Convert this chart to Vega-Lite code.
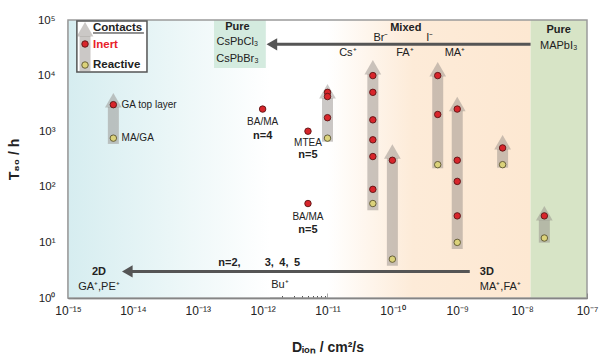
{
  "$schema": "https://vega.github.io/schema/vega-lite/v6.json",
  "width": 519,
  "height": 278,
  "autosize": "none",
  "padding": {"left": 68, "top": 20, "right": 16, "bottom": 60},
  "background": "white",
  "config": {
    "view": {"stroke": null},
    "text": {"font": "Liberation Sans", "color": "#222222"},
    "axis": {
      "zindex": 1,
      "grid": false,
      "domainColor": "#444444",
      "domainWidth": 1.5,
      "tickColor": "#555555",
      "tickWidth": 1,
      "labelFont": "Liberation Sans",
      "labelFontSize": 12,
      "labelColor": "#222222",
      "labelOverlap": false,
      "labelFlush": false,
      "titleFont": "Liberation Sans",
      "titleFontSize": 14,
      "titleFontWeight": "bold",
      "titleColor": "#222222"
    }
  },
  "encoding": {
    "x": {
      "field": "x",
      "type": "quantitative",
      "scale": {"type": "log", "domain": [1e-15, 1e-7], "nice": false},
      "axis": {
        "title": "Dᵢₒₙ / cm²/s",
        "titlePadding": 22,
        "labelPadding": 12,
        "values": [1e-15,2e-15,3e-15,4e-15,5e-15,6e-15,7e-15,8e-15,9e-15,1e-14,2e-14,3e-14,4e-14,5e-14,6e-14,7e-14,8e-14,9e-14,1e-13,2e-13,3e-13,4e-13,5e-13,6e-13,7e-13,8e-13,9e-13,1e-12,2e-12,3e-12,4e-12,5e-12,6e-12,7e-12,8e-12,9e-12,1e-11,2e-11,3e-11,4e-11,5e-11,6e-11,7e-11,8e-11,9e-11,1e-10,2e-10,3e-10,4e-10,5e-10,6e-10,7e-10,8e-10,9e-10,1e-9,2e-9,3e-9,4e-9,5e-9,6e-9,7e-9,8e-9,9e-9,1e-8,2e-8,3e-8,4e-8,5e-8,6e-8,7e-8,8e-8,9e-8,1e-7],
        "labelExpr": "abs(log(datum.value)/LN10 - round(log(datum.value)/LN10)) < 0.01 ? ['10⁻¹⁵','10⁻¹⁴','10⁻¹³','10⁻¹²','10⁻¹¹','10⁻¹⁰','10⁻⁹','10⁻⁸','10⁻⁷'][round(log(datum.value)/LN10)+15] : ''",
        "tickSize": {"condition": {"test": "abs(log(datum.value)/LN10 - round(log(datum.value)/LN10)) < 0.01", "value": -5}, "value": -2.5}
      }
    },
    "y": {
      "field": "y",
      "type": "quantitative",
      "scale": {"type": "log", "domain": [1, 100000], "nice": false},
      "axis": {
        "title": "T₈₀ / h",
        "titlePadding": 16,
        "labelPadding": 18,
        "labelFontSize": 11.5,
        "values": [1,2,3,4,5,6,7,8,9,10,20,30,40,50,60,70,80,90,100,200,300,400,500,600,700,800,900,1000,2000,3000,4000,5000,6000,7000,8000,9000,10000,20000,30000,40000,50000,60000,70000,80000,90000,100000],
        "labelExpr": "abs(log(datum.value)/LN10 - round(log(datum.value)/LN10)) < 0.01 ? ['10⁰','10¹','10²','10³','10⁴','10⁵'][round(log(datum.value)/LN10)] : ''",
        "tickSize": {"condition": {"test": "abs(log(datum.value)/LN10 - round(log(datum.value)/LN10)) < 0.01", "value": -5}, "value": -2.5}
      }
    }
  },
  "layer": [
    {
      "data": {"values": [{"x": 1e-15, "x2": 1.3e-12, "y": 1, "y2": 100000}]},
      "mark": {"type": "rect", "fill": {"gradient": "linear", "x1": 0, "y1": 0, "x2": 1, "y2": 0, "stops": [{"offset": 0, "color": "#d6edf0"}, {"offset": 0.5, "color": "#eaf6f7"}, {"offset": 1, "color": "#ffffff"}]}},
      "encoding": {"x2": {"field": "x2"}, "y2": {"field": "y2"}}
    },
    {
      "data": {"values": [{"x": 1e-11, "x2": 1.35e-8, "y": 1, "y2": 100000}]},
      "mark": {"type": "rect", "fill": {"gradient": "linear", "x1": 0, "y1": 0, "x2": 1, "y2": 0, "stops": [{"offset": 0, "color": "#ffffff"}, {"offset": 0.42, "color": "#fdebd8"}, {"offset": 1, "color": "#fde8d2"}]}},
      "encoding": {"x2": {"field": "x2"}, "y2": {"field": "y2"}}
    },
    {
      "data": {"values": [{"x": 1.35e-8, "x2": 1e-7, "y": 1, "y2": 100000}]},
      "mark": {"type": "rect", "fill": "#d7e4c6"},
      "encoding": {"x2": {"field": "x2"}, "y2": {"field": "y2"}}
    },
    {
      "data": {"values": [{"x": 1.78e-13, "x2": 1.12e-12, "y": 13700, "y2": 100000}]},
      "mark": {"type": "rect", "fill": "#d4ebdf"},
      "encoding": {"x2": {"field": "x2"}, "y2": {"field": "y2"}}
    },
    {
      "data": {"values": [{"x": 1e-15, "x2": 1e-7, "y": 1, "y2": 100000}]},
      "mark": {"type": "rect", "fill": null, "stroke": "#9a9a9a", "strokeWidth": 1.5},
      "encoding": {"x2": {"field": "x2"}, "y2": {"field": "y2"}}
    },
    {
      "data": {"name": "arrows", "values": [
        {"x": 5e-15, "y": 590, "y2": 4860},
        {"x": 1e-11, "y": 647, "y2": 7060},
        {"x": 5e-11, "y": 38, "y2": 19100},
        {"x": 1e-10, "y": 3.8, "y2": 581},
        {"x": 5e-10, "y": 215, "y2": 17600},
        {"x": 1e-9, "y": 7.6, "y2": 4180},
        {"x": 5e-9, "y": 221, "y2": 855},
        {"x": 2.2e-8, "y": 9.9, "y2": 45}
      ]},
      "mark": {"type": "rule", "strokeWidth": 11, "strokeCap": "butt", "color": "#8c8580", "opacity": 0.45, "y2Offset": 14},
      "encoding": {"y2": {"field": "y2"}}
    },
    {
      "data": {"name": "arrows"},
      "mark": {"type": "point", "shape": "triangle-up", "filled": true, "size": 280, "color": "#8c8580", "opacity": 0.45, "yOffset": 7.25, "strokeWidth": 0},
      "encoding": {"y": {"field": "y2", "type": "quantitative"}}
    },
    {
      "data": {"values": [
        {"x": 5e-15, "y": 3000, "c": "Inert"},
        {"x": 1e-12, "y": 2500, "c": "Inert"},
        {"x": 5e-12, "y": 1000, "c": "Inert"},
        {"x": 5e-12, "y": 50, "c": "Inert"},
        {"x": 1e-11, "y": 5000, "c": "Inert"},
        {"x": 1e-11, "y": 4200, "c": "Inert"},
        {"x": 1e-11, "y": 1750, "c": "Inert"},
        {"x": 5e-11, "y": 10000, "c": "Inert"},
        {"x": 5e-11, "y": 5000, "c": "Inert"},
        {"x": 5e-11, "y": 1600, "c": "Inert"},
        {"x": 5e-11, "y": 700, "c": "Inert"},
        {"x": 5e-11, "y": 350, "c": "Inert"},
        {"x": 5e-11, "y": 90, "c": "Inert"},
        {"x": 1e-10, "y": 300, "c": "Inert"},
        {"x": 5e-10, "y": 10000, "c": "Inert"},
        {"x": 5e-10, "y": 2000, "c": "Inert"},
        {"x": 1e-9, "y": 2500, "c": "Inert"},
        {"x": 1e-9, "y": 300, "c": "Inert"},
        {"x": 1e-9, "y": 125, "c": "Inert"},
        {"x": 1e-9, "y": 30, "c": "Inert"},
        {"x": 5e-9, "y": 500, "c": "Inert"},
        {"x": 2.2e-8, "y": 30, "c": "Inert"},
        {"x": 5e-15, "y": 750, "c": "Reactive"},
        {"x": 1e-11, "y": 750, "c": "Reactive"},
        {"x": 5e-11, "y": 50, "c": "Reactive"},
        {"x": 1e-10, "y": 5, "c": "Reactive"},
        {"x": 5e-10, "y": 250, "c": "Reactive"},
        {"x": 1e-9, "y": 10, "c": "Reactive"},
        {"x": 5e-9, "y": 250, "c": "Reactive"},
        {"x": 2.2e-8, "y": 12, "c": "Reactive"}
      ]},
      "mark": {"type": "point", "shape": "circle", "filled": true, "size": 42, "opacity": 1, "strokeWidth": 0.9},
      "encoding": {
        "color": {"field": "c", "type": "nominal", "scale": {"domain": ["Inert", "Reactive"], "range": ["#d8252b", "#dbd27a"]}, "legend": null},
        "stroke": {"field": "c", "type": "nominal", "scale": {"domain": ["Inert", "Reactive"], "range": ["#5a1414", "#5a5430"]}, "legend": null}
      }
    },
    {
      "data": {"values": [
        {"x": 1.15e-12, "x2": 1.35e-8, "y": 36600},
        {"x": 6.8e-15, "x2": 1.56e-9, "y": 3}
      ]},
      "mark": {"type": "rule", "strokeWidth": 3, "color": "#555555", "strokeCap": "butt", "xOffset": 4},
      "encoding": {"x2": {"field": "x2"}}
    },
    {
      "data": {"values": [
        {"x": 1.15e-12, "y": 36600},
        {"x": 6.8e-15, "y": 3}
      ]},
      "mark": {"type": "point", "shape": "triangle-left", "filled": true, "size": 150, "color": "#555555", "opacity": 1, "xOffset": 5.3, "strokeWidth": 0},
      "encoding": {}
    },
    {
      "data": {"values": [
        {"x": 1e-12, "y": 1480, "t": "BA/MA"},
        {"x": 5e-12, "y": 614, "t": "MTEA"},
        {"x": 5e-12, "y": 28.6, "t": "BA/MA"}
      ]},
      "mark": {"type": "text", "fontSize": 10, "align": "center", "baseline": "middle"},
      "encoding": {"text": {"field": "t"}}
    },
    {
      "data": {"values": [
        {"x": 6.7e-15, "y": 3000, "t": "GA top layer"},
        {"x": 6.7e-15, "y": 750, "t": "MA/GA"}
      ]},
      "mark": {"type": "text", "fontSize": 10, "align": "left", "baseline": "middle"},
      "encoding": {"text": {"field": "t"}}
    },
    {
      "data": {"values": [
        {"x": 1e-12, "y": 830, "t": "n=4"},
        {"x": 5e-12, "y": 373, "t": "n=5"},
        {"x": 5e-12, "y": 16.7, "t": "n=5"},
        {"x": 3.08e-13, "y": 4.26, "t": "n=2,"},
        {"x": 2.02e-12, "y": 4.26, "t": "3,\u20024,\u20025"},
        {"x": 3e-15, "y": 2.94, "t": "2D"},
        {"x": 1.61e-10, "y": 71800, "t": "Mixed"},
        {"x": 4.09e-13, "y": 74800, "t": "Pure"},
        {"x": 3.67e-8, "y": 66100, "t": "Pure"}
      ]},
      "mark": {"type": "text", "fontSize": 11, "fontWeight": "bold", "align": "center", "baseline": "middle"},
      "encoding": {"text": {"field": "t"}}
    },
    {
      "data": {"values": [
        {"x": 2.23e-9, "y": 2.94, "t": "3D"}
      ]},
      "mark": {"type": "text", "fontSize": 11, "fontWeight": "bold", "align": "left", "baseline": "middle"},
      "encoding": {"text": {"field": "t"}}
    },
    {
      "data": {"values": [
        {"x": 4.09e-13, "y": 40200, "t": "CsPbCl₃"},
        {"x": 4.09e-13, "y": 19900, "t": "CsPbBr₃"},
        {"x": 3.67e-8, "y": 34000, "t": "MAPbI₃"},
        {"x": 6.65e-11, "y": 47400, "t": "Br⁻"},
        {"x": 3.78e-10, "y": 47400, "t": "I⁻"},
        {"x": 2.06e-11, "y": 25500, "t": "Cs⁺"},
        {"x": 1.56e-10, "y": 25500, "t": "FA⁺"},
        {"x": 9.2e-10, "y": 25500, "t": "MA⁺"},
        {"x": 3e-15, "y": 1.58, "t": "GA⁺,PE⁺"},
        {"x": 1.85e-12, "y": 1.71, "t": "Bu⁺"}
      ]},
      "mark": {"type": "text", "fontSize": 11, "align": "center", "baseline": "middle"},
      "encoding": {"text": {"field": "t"}}
    },
    {
      "data": {"values": [
        {"x": 2.23e-9, "y": 1.58, "t": "MA⁺,FA⁺"}
      ]},
      "mark": {"type": "text", "fontSize": 11, "align": "left", "baseline": "middle"},
      "encoding": {"text": {"field": "t"}}
    },
    {
      "data": {"values": [{"x": 1.37e-15, "x2": 1.65e-14, "y": 11600, "y2": 95900}]},
      "mark": {"type": "rect", "fill": "#ffffff", "stroke": "#555555", "strokeWidth": 1.5},
      "encoding": {"x2": {"field": "x2"}, "y2": {"field": "y2"}}
    },
    {
      "data": {"name": "legarrow", "values": [{"x": 1.83e-15, "y": 12100, "y2": 92000}]},
      "mark": {"type": "rule", "strokeWidth": 11, "strokeCap": "butt", "color": "#8c8580", "opacity": 0.45, "y2Offset": 14},
      "encoding": {"y2": {"field": "y2"}}
    },
    {
      "data": {"name": "legarrow"},
      "mark": {"type": "point", "shape": "triangle-up", "filled": true, "size": 280, "color": "#8c8580", "opacity": 0.45, "yOffset": 7.25, "strokeWidth": 0},
      "encoding": {"y": {"field": "y2", "type": "quantitative"}}
    },
    {
      "data": {"values": [
        {"x": 1.83e-15, "y": 37000, "c": "Inert"},
        {"x": 1.83e-15, "y": 15500, "c": "Reactive"}
      ]},
      "mark": {"type": "point", "shape": "circle", "filled": true, "size": 42, "opacity": 1, "strokeWidth": 0.9},
      "encoding": {
        "color": {"field": "c", "type": "nominal", "scale": {"domain": ["Inert", "Reactive"], "range": ["#d8252b", "#dbd27a"]}, "legend": null},
        "stroke": {"field": "c", "type": "nominal", "scale": {"domain": ["Inert", "Reactive"], "range": ["#5a1414", "#5a5430"]}, "legend": null}
      }
    },
    {
      "data": {"values": [{"x": 2.43e-15, "x2": 1.48e-14, "y": 58400}]},
      "mark": {"type": "rule", "strokeWidth": 1, "color": "#222222"},
      "encoding": {"x2": {"field": "x2"}}
    },
    {
      "data": {"values": [
        {"x": 2.43e-15, "y": 71800, "t": "Contacts"},
        {"x": 2.43e-15, "y": 15500, "t": "Reactive"}
      ]},
      "mark": {"type": "text", "fontSize": 11.5, "fontWeight": "bold", "align": "left", "baseline": "middle"},
      "encoding": {"text": {"field": "t"}}
    },
    {
      "data": {"values": [
        {"x": 2.43e-15, "y": 35500, "t": "Inert"}
      ]},
      "mark": {"type": "text", "fontSize": 11.5, "fontWeight": "bold", "align": "left", "baseline": "middle", "color": "#e8202a"},
      "encoding": {"text": {"field": "t"}}
    }
  ]
}
